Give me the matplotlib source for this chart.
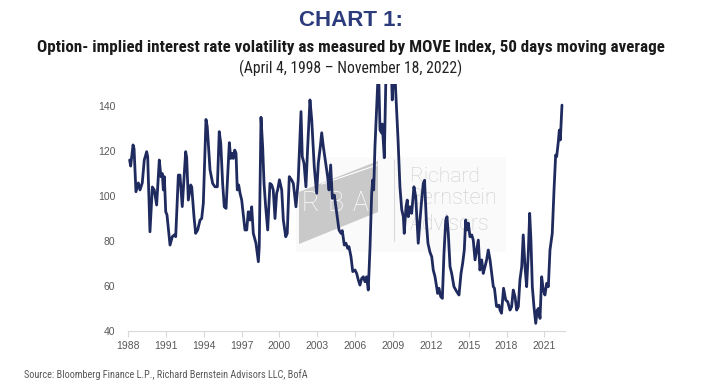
import matplotlib
matplotlib.use("Agg")
import matplotlib.pyplot as plt
from matplotlib import font_manager
from matplotlib.patches import Polygon, Rectangle
from matplotlib.lines import Line2D

# ---------------- data ----------------
years = [
    1988.13, 1988.21, 1988.40, 1988.48, 1988.63, 1988.82, 1988.95, 1989.13, 1989.29, 1989.48,
    1989.56, 1989.74, 1989.93, 1990.08, 1990.27, 1990.48, 1990.61, 1990.72, 1990.80, 1990.88,
    1990.99, 1991.09, 1991.33, 1991.51, 1991.67, 1991.78, 1991.99, 1992.12, 1992.30, 1992.57,
    1992.65, 1992.78, 1992.97, 1993.05, 1993.23, 1993.36, 1993.52, 1993.71, 1993.84, 1993.97,
    1994.18, 1994.28, 1994.50, 1994.71, 1994.89, 1995.08, 1995.23, 1995.35, 1995.50, 1995.63,
    1995.77, 1995.92, 1996.03, 1996.14, 1996.24, 1996.34, 1996.46, 1996.56, 1996.66, 1996.77,
    1996.88, 1997.01, 1997.27, 1997.41, 1997.53, 1997.67, 1997.80, 1997.93, 1998.14, 1998.33,
    1998.40, 1998.54, 1998.67, 1998.78, 1998.91, 1999.07, 1999.25, 1999.39, 1999.51, 1999.65,
    1999.78, 1999.86, 2000.00, 2000.18, 2000.31, 2000.50, 2000.62, 2000.78, 2000.97, 2001.10,
    2001.31, 2001.49, 2001.71, 2001.81, 2001.95, 2002.10, 2002.24, 2002.42, 2002.56, 2002.76,
    2002.95, 2003.08, 2003.24, 2003.35, 2003.48, 2003.67, 2003.82, 2003.93, 2004.06, 2004.19,
    2004.35, 2004.54, 2004.72, 2004.88, 2004.98, 2005.14, 2005.27, 2005.41, 2005.51, 2005.67,
    2005.81, 2005.99, 2006.12, 2006.25, 2006.38, 2006.52, 2006.65, 2006.78, 2006.91, 2007.04,
    2007.18, 2007.31, 2007.39, 2007.47, 2007.57, 2007.71, 2007.85, 2007.97, 2008.10, 2008.15,
    2008.31, 2008.48, 2008.64, 2008.84, 2008.94, 2009.05, 2009.14, 2009.21, 2009.40, 2009.55,
    2009.69, 2009.82, 2009.89, 2010.03, 2010.13, 2010.21, 2010.35, 2010.48, 2010.66, 2010.80,
    2011.00, 2011.14, 2011.27, 2011.40, 2011.50, 2011.65, 2011.77, 2011.93, 2012.07, 2012.19,
    2012.33, 2012.54, 2012.64, 2012.78, 2012.91, 2013.04, 2013.18, 2013.28, 2013.38, 2013.52,
    2013.65, 2013.83, 2014.05, 2014.23, 2014.39, 2014.52, 2014.65, 2014.76, 2014.86, 2014.97,
    2015.10, 2015.24, 2015.36, 2015.50, 2015.63, 2015.76, 2015.89, 2016.03, 2016.15, 2016.29,
    2016.42, 2016.55, 2016.69, 2016.82, 2016.95, 2017.04, 2017.20, 2017.30, 2017.40, 2017.48,
    2017.60, 2017.76, 2017.93, 2018.09, 2018.27, 2018.40, 2018.53, 2018.67, 2018.80, 2018.93,
    2019.06, 2019.20, 2019.32, 2019.46, 2019.59, 2019.72, 2019.83, 2019.93, 2020.04, 2020.17,
    2020.31, 2020.43, 2020.54, 2020.65, 2020.78, 2020.91, 2021.04, 2021.18, 2021.31, 2021.44,
    2021.62, 2021.76, 2021.89, 2021.97, 2022.10, 2022.18, 2022.26, 2022.39,
]
move_50d = [
    116, 113.3, 122.7, 121, 101.9, 105.8, 102.7, 105.8, 116, 119.7,
    117.5, 84.1, 104, 102.7, 96, 116, 108.6, 110, 102.7, 108.6,
    93, 91.6, 78.2, 81.9, 82.7, 81.9, 109.3, 109.3, 95.3, 119.7,
    117, 98.2, 104.9, 104, 90.8, 83.4, 84.9, 89.3, 90, 96.8,
    134, 130.8, 111.6, 105.6, 104.1, 104.1, 128.6, 123.4, 105.6, 95.2,
    94.5, 111.6, 123.7, 116.7, 119, 116.7, 120.4, 119, 102.7, 104.9,
    101.2, 98.2, 84.9, 84.9, 93, 89.3, 95.2, 83.4, 79, 70.8,
    77.5, 135, 121.9, 105.6, 95.2, 84.9, 105.6, 104.9, 102.7, 90,
    101.2, 102.7, 107.2, 102.7, 89.3, 81.9, 83.4, 108.6, 107.1, 105.6,
    95.2, 107.1, 137.5, 117.5, 114.5, 104.1, 121.9, 142.7, 133.8, 113,
    101.2, 114.5, 121.9, 128.1, 121.9, 114.5, 108.6, 102.7, 113.8, 99,
    100.4, 92.3, 84.9, 83.4, 84.6, 78.2, 79, 76.7, 77.5, 73,
    66.4, 67.1, 65.6, 62.7, 60.4, 63.4, 64.1, 61.9, 64.1, 58.2,
    77.5, 101.2, 107.1, 102.7, 121.9, 139.7, 158, 129.3, 128, 132,
    117, 165, 172, 162, 142.7, 156, 158, 147, 125, 104,
    94, 90.8, 83.4, 95.2, 98.2, 90.8, 95.2, 92.3, 104.1, 99.7,
    79, 89.3, 98.2, 105.6, 107, 88, 79, 75, 73, 67.1,
    64.1, 56.7, 59, 55.3, 54.5, 74.5, 89.3, 90.8, 83.4, 68.6,
    65.6, 59.7, 57.5, 56, 65.6, 70.1, 76, 89.3, 84.9, 87.9,
    81.9, 82.7, 80.4, 71.6, 76, 80.4, 67.1, 71.6, 65.6, 68.6,
    71.6, 76, 71.6, 65.6, 59.7, 59, 51, 50.8, 51.5, 49.3,
    47.9, 59, 53.8, 53, 49.3, 50.8, 58.2, 55.3, 49.3, 50.8,
    62.7, 68.6, 82.7, 68.6, 59.7, 74.5, 92.3, 80.4, 59.7, 50.8,
    43.4, 49.3, 50.1, 45.6, 64.1, 58.2, 56, 61.2, 59.7, 76,
    83.4, 102.7, 118.2, 117.5, 124.1, 129.3, 124.9, 140.4,
]
x_ticks = [1988, 1991, 1994, 1997, 2000, 2003, 2006, 2009, 2012, 2015, 2018, 2021]
x_tick_labels = [str(v) for v in x_ticks]
y_ticks = [40, 60, 80, 100, 120, 140]
y_tick_labels = [str(v) for v in y_ticks]

title = "CHART 1:"
subtitle = "Option- implied interest rate volatility as measured by MOVE Index, 50 days moving average"
date_range = "(April 4, 1998 \u2013 November 18, 2022)"
source = "Source: Bloomberg Finance L.P., Richard Bernstein Advisors LLC, BofA"

# ---------------- layout ----------------
W, H = 703, 389
fig = plt.figure(figsize=(W / 100, H / 100), dpi=100)
fig.patch.set_facecolor("white")


def fx(x):
    return x / W


def fy(y):
    return 1 - y / H


names = {f.name for f in font_manager.fontManager.ttflist}
narrow = next((n for n in ["Liberation Sans Narrow", "Roboto Condensed",
                           "Open Sans Condensed", "Liberation Sans"] if n in names),
              "DejaVu Sans")
regular = "Liberation Sans" if "Liberation Sans" in names else "DejaVu Sans"
light = "Roboto" if "Roboto" in names else regular

ax = fig.add_axes([fx(128), fy(331), fx(565) - fx(128), fy(83.5) - fy(331)])
ax.plot(years, move_50d, color="#1F2B5E", lw=2.0, solid_joinstyle="round",
        solid_capstyle="round", zorder=3)
ax.set_xlim(1988, 2022.63)
ax.set_ylim(40, 150)
ax.set_xticks(x_ticks)
ax.set_xticklabels(x_tick_labels)
ax.set_yticks(y_ticks)
ax.set_yticklabels(y_tick_labels)
for s in ["left", "top", "right"]:
    ax.spines[s].set_visible(False)
ax.spines["bottom"].set_color("#D9D9D9")
ax.spines["bottom"].set_linewidth(0.8)
ax.tick_params(axis="x", length=4, width=0.8, color="#D9D9D9", pad=3,
               labelsize=7.5, labelcolor="#595959")
ax.tick_params(axis="y", length=0, pad=9, labelsize=7.5, labelcolor="#595959")
for lab in ax.get_xticklabels() + ax.get_yticklabels():
    lab.set_fontfamily(regular)

# ---------------- watermark (behind the line) ----------------
tf = fig.transFigure
ax.add_patch(Rectangle((fx(296), fy(252)), fx(506) - fx(296), fy(157) - fy(252),
                       transform=tf, facecolor="#FAFAFA", edgecolor="none",
                       zorder=0.5, clip_on=False))
logo = [(299, 192), (378, 161), (378, 212), (299, 244)]
ax.add_patch(Polygon([(fx(a), fy(b)) for a, b in logo], closed=True, transform=tf,
                     facecolor="#C9C9C9", edgecolor="none", zorder=1, clip_on=False))
ax.add_artist(Line2D([fx(322), fx(377)], [fy(184), fy(165)], transform=tf,
                     color="white", lw=0.8, zorder=1.1, clip_on=False))
rba = []
for letter, cx in zip("RBA", [310, 335, 361]):
    t = ax.text(fx(cx), fy(203), letter, transform=tf, ha="center", va="center",
                color="white", fontsize=20, fontfamily=light, fontweight="light",
                zorder=1.2, clip_on=False)
    rba.append(t)
ax.add_artist(Line2D([fx(394), fx(394)], [fy(160), fy(241)], transform=tf,
                     color="#DADADA", lw=0.8, zorder=1, clip_on=False))
wm_texts = []
for word, cy, w in [("Richard", 176, 70), ("Bernstein", 199, 88), ("Advisors", 224, 80)]:
    t = ax.text(fx(410), fy(cy), word, transform=tf, ha="left", va="center",
                color="#CDCDCD", fontsize=16, fontfamily=light, fontweight="light",
                zorder=1.2, clip_on=False)
    wm_texts.append((t, w))

# ---------------- titles and source ----------------
t1 = fig.text(fx(351), fy(21), title, ha="center", va="center", color="#2B3B7C",
              fontsize=14, fontweight="bold", fontfamily=regular)
t2 = fig.text(fx(351), fy(47), subtitle, ha="center", va="center", color="#1A1A1A",
              fontsize=10, fontweight="bold", fontfamily=narrow)
t3 = fig.text(fx(351), fy(68), date_range, ha="center", va="center", color="#222222",
              fontsize=10, fontfamily=narrow)
t4 = fig.text(fx(24), fy(375), source, ha="left", va="center", color="#595959",
              fontsize=6, fontfamily=narrow)

fig.canvas.draw()
r = fig.canvas.get_renderer()


def fit(t, width_px):
    bb = t.get_window_extent(r)
    t.set_fontsize(t.get_fontsize() * width_px / bb.width)


def fit_h(t, height_px):
    bb = t.get_window_extent(r)
    t.set_fontsize(t.get_fontsize() * height_px / bb.height)


fit(t1, 104)
fit(t2, 628)
fit(t3, 222)
fit(t4, 286)
for t, w in wm_texts:
    fit(t, w)
for t in rba:
    fit_h(t, 26)

fig.savefig("out.png", dpi=100, facecolor="white")
